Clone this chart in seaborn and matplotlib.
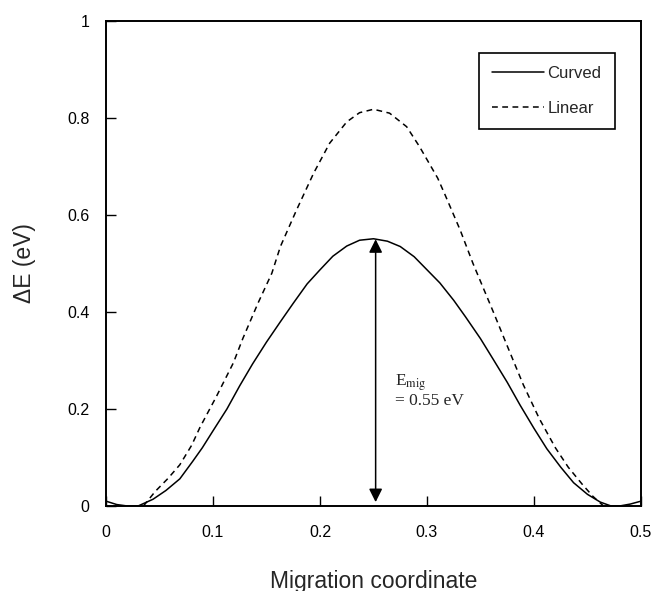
import matplotlib
matplotlib.use("Agg")
import matplotlib.pyplot as plt
import seaborn as sns
import pandas as pd

# ---- data ----
curved_x = [0.000, 0.010, 0.020, 0.030, 0.044, 0.056, 0.069, 0.081, 0.090, 0.100,
            0.113, 0.125, 0.137, 0.150, 0.163, 0.175, 0.188, 0.200, 0.212, 0.225,
            0.237, 0.250, 0.263, 0.275, 0.288, 0.300, 0.312, 0.325, 0.336, 0.350,
            0.362, 0.375, 0.387, 0.400, 0.412, 0.425, 0.437, 0.450, 0.462, 0.472,
            0.480, 0.490, 0.500]
curved_y = [0.010, 0.003, 0.000, 0.000, 0.014, 0.032, 0.056, 0.092, 0.120, 0.155,
            0.200, 0.248, 0.293, 0.338, 0.380, 0.418, 0.458, 0.487, 0.515, 0.536,
            0.548, 0.551, 0.546, 0.535, 0.514, 0.487, 0.460, 0.424, 0.390, 0.345,
            0.302, 0.255, 0.208, 0.160, 0.118, 0.080, 0.048, 0.024, 0.008, 0.000,
            0.000, 0.004, 0.010]

linear_x = [0.035, 0.046, 0.058, 0.069, 0.080, 0.088, 0.103, 0.119, 0.128, 0.142,
            0.155, 0.163, 0.178, 0.194, 0.209, 0.225, 0.237, 0.250, 0.265, 0.281,
            0.293, 0.310, 0.317, 0.331, 0.343, 0.362, 0.375, 0.390, 0.405, 0.420,
            0.432, 0.445, 0.455, 0.465]
linear_y = [0.000, 0.030, 0.057, 0.085, 0.125, 0.163, 0.225, 0.295, 0.346, 0.418,
            0.480, 0.535, 0.610, 0.686, 0.748, 0.792, 0.811, 0.818, 0.810, 0.782,
            0.741, 0.676, 0.641, 0.569, 0.500, 0.400, 0.330, 0.250, 0.180, 0.120,
            0.080, 0.045, 0.020, 0.000]

series_names = ["Curved", "Linear"]
x_ticks = [0, 0.1, 0.2, 0.3, 0.4, 0.5]
x_tick_labels = ["0", "0.1", "0.2", "0.3", "0.4", "0.5"]
y_ticks = [0, 0.2, 0.4, 0.6, 0.8, 1.0]
y_tick_labels = ["0", "0.2", "0.4", "0.6", "0.8", "1"]
barrier_x = 0.252
barrier_value = 0.55

df_c = pd.DataFrame({"x": curved_x, "y": curved_y})
df_l = pd.DataFrame({"x": linear_x, "y": linear_y})

sns.set_style("ticks")
plt.rcParams["font.family"] = ["Liberation Sans", "DejaVu Sans"]
plt.rcParams["mathtext.fontset"] = "stix"

fig = plt.figure(figsize=(6.53, 5.91), dpi=100)
ax = fig.add_axes([106 / 653, 85 / 591, 535 / 653, 485 / 591])

sns.lineplot(data=df_c, x="x", y="y", ax=ax, color="black", lw=1.1,
             label=series_names[0], sort=False)
sns.lineplot(data=df_l, x="x", y="y", ax=ax, color="black", lw=1.1,
             linestyle=(0, (3.8, 2.9)), label=series_names[1], sort=False)

ax.set_xlim(0, 0.5)
ax.set_ylim(0, 1)
ax.set_xticks(x_ticks)
ax.set_xticklabels(x_tick_labels)
ax.set_yticks(y_ticks)
ax.set_yticklabels(y_tick_labels)
ax.tick_params(direction="in", length=7, width=1, labelsize=11.5, colors="black",
               pad=12, top=False, right=False)
ax.tick_params(axis="x", pad=14)
for s in ax.spines.values():
    s.set_visible(True)
    s.set_linewidth(1.4)
    s.set_color("black")

ax.set_xlabel("Migration coordinate", fontsize=16.5, labelpad=21)
ax.set_ylabel("ΔE (eV)", fontsize=16.5, labelpad=22)

# barrier arrow
ax.annotate("", xy=(barrier_x, barrier_value), xytext=(barrier_x, 0.008),
            arrowprops=dict(arrowstyle="<|-|>", color="black", lw=1.1,
                            mutation_scale=20, shrinkA=0, shrinkB=0))
ax.text(0.270, 0.275, "E$_{\\mathrm{mig}}$\n= 0.55 eV", fontsize=12.5,
        family=["Liberation Serif", "DejaVu Serif"], va="top", ha="left",
        linespacing=1.0)

leg = ax.legend(loc="upper right", bbox_to_anchor=(0.951, 0.935), borderaxespad=0,
                frameon=True, fancybox=False, fontsize=12, handlelength=3.1,
                handletextpad=0.2, labelspacing=1.2, borderpad=0.8)
frame = leg.get_frame()
frame.set_edgecolor("black")
frame.set_linewidth(1.2)
frame.set_facecolor("white")
frame.set_alpha(1)

fig.savefig("out.png", dpi=100)
